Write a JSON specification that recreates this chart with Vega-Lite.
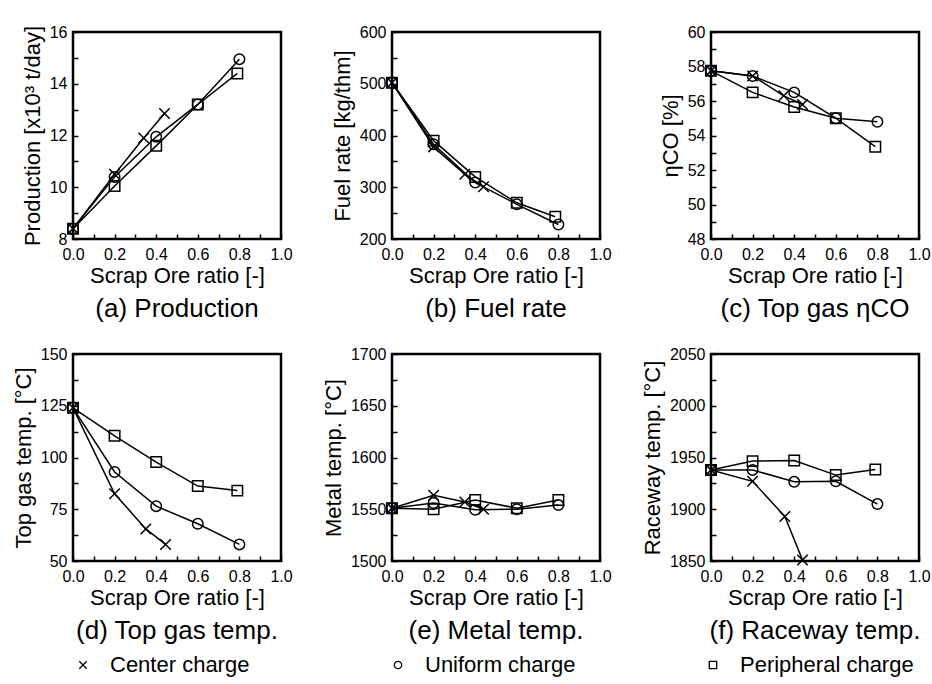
{
  "$schema": "https://vega.github.io/schema/vega-lite/v6.json",
  "background": "white",
  "padding": {"left": 11, "top": 22, "right": 2, "bottom": 5},
  "datasets": {
    "d": [
      {"p": "a", "c": "Center charge", "x": 0, "y": 8.4},
      {"p": "a", "c": "Center charge", "x": 0.2, "y": 10.5},
      {"p": "a", "c": "Center charge", "x": 0.34, "y": 11.9},
      {"p": "a", "c": "Center charge", "x": 0.44, "y": 12.85},
      {"p": "a", "c": "Uniform charge", "x": 0, "y": 8.4},
      {"p": "a", "c": "Uniform charge", "x": 0.2, "y": 10.4},
      {"p": "a", "c": "Uniform charge", "x": 0.4, "y": 11.95},
      {"p": "a", "c": "Uniform charge", "x": 0.6, "y": 13.2},
      {"p": "a", "c": "Uniform charge", "x": 0.8, "y": 14.95},
      {"p": "a", "c": "Peripheral charge", "x": 0, "y": 8.4},
      {"p": "a", "c": "Peripheral charge", "x": 0.2, "y": 10.05},
      {"p": "a", "c": "Peripheral charge", "x": 0.4, "y": 11.6},
      {"p": "a", "c": "Peripheral charge", "x": 0.6, "y": 13.2},
      {"p": "a", "c": "Peripheral charge", "x": 0.79, "y": 14.4},

      {"p": "b", "c": "Center charge", "x": 0, "y": 502},
      {"p": "b", "c": "Center charge", "x": 0.2, "y": 378},
      {"p": "b", "c": "Center charge", "x": 0.35, "y": 325},
      {"p": "b", "c": "Center charge", "x": 0.44, "y": 301},
      {"p": "b", "c": "Uniform charge", "x": 0, "y": 502},
      {"p": "b", "c": "Uniform charge", "x": 0.2, "y": 383},
      {"p": "b", "c": "Uniform charge", "x": 0.4, "y": 309},
      {"p": "b", "c": "Uniform charge", "x": 0.6, "y": 267},
      {"p": "b", "c": "Uniform charge", "x": 0.8, "y": 228},
      {"p": "b", "c": "Peripheral charge", "x": 0, "y": 502},
      {"p": "b", "c": "Peripheral charge", "x": 0.2, "y": 390},
      {"p": "b", "c": "Peripheral charge", "x": 0.4, "y": 320},
      {"p": "b", "c": "Peripheral charge", "x": 0.6, "y": 270},
      {"p": "b", "c": "Peripheral charge", "x": 0.785, "y": 243},

      {"p": "c", "c": "Center charge", "x": 0, "y": 57.75},
      {"p": "c", "c": "Center charge", "x": 0.2, "y": 57.45},
      {"p": "c", "c": "Center charge", "x": 0.35, "y": 56.3},
      {"p": "c", "c": "Center charge", "x": 0.44, "y": 55.8},
      {"p": "c", "c": "Uniform charge", "x": 0, "y": 57.75},
      {"p": "c", "c": "Uniform charge", "x": 0.2, "y": 57.45},
      {"p": "c", "c": "Uniform charge", "x": 0.4, "y": 56.5},
      {"p": "c", "c": "Uniform charge", "x": 0.6, "y": 55.0},
      {"p": "c", "c": "Uniform charge", "x": 0.8, "y": 54.8},
      {"p": "c", "c": "Peripheral charge", "x": 0, "y": 57.75},
      {"p": "c", "c": "Peripheral charge", "x": 0.2, "y": 56.5},
      {"p": "c", "c": "Peripheral charge", "x": 0.4, "y": 55.65},
      {"p": "c", "c": "Peripheral charge", "x": 0.6, "y": 55.0},
      {"p": "c", "c": "Peripheral charge", "x": 0.79, "y": 53.35},

      {"p": "d", "c": "Center charge", "x": 0, "y": 124},
      {"p": "d", "c": "Center charge", "x": 0.2, "y": 82.5},
      {"p": "d", "c": "Center charge", "x": 0.35, "y": 65.5},
      {"p": "d", "c": "Center charge", "x": 0.445, "y": 58},
      {"p": "d", "c": "Uniform charge", "x": 0, "y": 124},
      {"p": "d", "c": "Uniform charge", "x": 0.2, "y": 93},
      {"p": "d", "c": "Uniform charge", "x": 0.4, "y": 76.5},
      {"p": "d", "c": "Uniform charge", "x": 0.6, "y": 68},
      {"p": "d", "c": "Uniform charge", "x": 0.8, "y": 58},
      {"p": "d", "c": "Peripheral charge", "x": 0, "y": 124},
      {"p": "d", "c": "Peripheral charge", "x": 0.2, "y": 110.5},
      {"p": "d", "c": "Peripheral charge", "x": 0.4, "y": 97.8},
      {"p": "d", "c": "Peripheral charge", "x": 0.6, "y": 86.2},
      {"p": "d", "c": "Peripheral charge", "x": 0.79, "y": 84},

      {"p": "e", "c": "Center charge", "x": 0, "y": 1551},
      {"p": "e", "c": "Center charge", "x": 0.2, "y": 1563.5},
      {"p": "e", "c": "Center charge", "x": 0.35, "y": 1557},
      {"p": "e", "c": "Center charge", "x": 0.44, "y": 1550},
      {"p": "e", "c": "Uniform charge", "x": 0, "y": 1551},
      {"p": "e", "c": "Uniform charge", "x": 0.2, "y": 1556},
      {"p": "e", "c": "Uniform charge", "x": 0.4, "y": 1549.5},
      {"p": "e", "c": "Uniform charge", "x": 0.6, "y": 1550},
      {"p": "e", "c": "Uniform charge", "x": 0.8, "y": 1554},
      {"p": "e", "c": "Peripheral charge", "x": 0, "y": 1551},
      {"p": "e", "c": "Peripheral charge", "x": 0.2, "y": 1550},
      {"p": "e", "c": "Peripheral charge", "x": 0.4, "y": 1559},
      {"p": "e", "c": "Peripheral charge", "x": 0.6, "y": 1551},
      {"p": "e", "c": "Peripheral charge", "x": 0.8, "y": 1559},

      {"p": "f", "c": "Center charge", "x": 0, "y": 1938},
      {"p": "f", "c": "Center charge", "x": 0.2, "y": 1927},
      {"p": "f", "c": "Center charge", "x": 0.355, "y": 1893},
      {"p": "f", "c": "Center charge", "x": 0.44, "y": 1851},
      {"p": "f", "c": "Uniform charge", "x": 0, "y": 1938},
      {"p": "f", "c": "Uniform charge", "x": 0.2, "y": 1938},
      {"p": "f", "c": "Uniform charge", "x": 0.4, "y": 1926.5},
      {"p": "f", "c": "Uniform charge", "x": 0.6, "y": 1927},
      {"p": "f", "c": "Uniform charge", "x": 0.8, "y": 1905},
      {"p": "f", "c": "Peripheral charge", "x": 0, "y": 1938},
      {"p": "f", "c": "Peripheral charge", "x": 0.2, "y": 1946.5},
      {"p": "f", "c": "Peripheral charge", "x": 0.4, "y": 1947},
      {"p": "f", "c": "Peripheral charge", "x": 0.6, "y": 1933},
      {"p": "f", "c": "Peripheral charge", "x": 0.79, "y": 1938.5}
    ]
  },
  "data": {"name": "d"},
  "columns": 3,
  "bounds": "flush",
  "spacing": {"row": 115, "column": 111},
  "concat": [
    {
      "width": 208, "height": 207,
      "title": {"text": "(a) Production", "orient": "bottom"},
      "transform": [{"filter": "datum.p === 'a'"}],
      "encoding": {
        "x": {"field": "x", "type": "quantitative", "scale": {"domain": [0, 1], "nice": false},
          "axis": {"title": "Scrap Ore ratio [-]", "values": [0, 0.1, 0.2, 0.3, 0.4, 0.5, 0.6, 0.7, 0.8, 0.9, 1.0], "labelExpr": "round(datum.value*10) % 2 === 0 ? format(datum.value, '.1f') : ''"}},
        "y": {"field": "y", "type": "quantitative", "scale": {"domain": [8, 16], "nice": false, "zero": false},
          "axis": {"title": "Production [x10³ t/day]", "values": [8, 9, 10, 11, 12, 13, 14, 15, 16], "labelExpr": "datum.value % 2 === 0 ? format(datum.value, 'd') : ''"}}
      },
      "layer": [
        {"mark": {"type": "line", "color": "black", "strokeWidth": 1.5}, "encoding": {"detail": {"field": "c"}}},
        {"mark": {"type": "point", "filled": false, "stroke": "black", "strokeWidth": 1.5, "size": 110, "opacity": 1},
          "encoding": {"shape": {"field": "c", "type": "nominal",
            "scale": {"domain": ["Center charge", "Uniform charge", "Peripheral charge"], "range": ["M-1,-1L1,1M-1,1L1,-1", "circle", "square"]},
            "legend": {"title": null, "orient": "none", "legendX": -1, "legendY": 622, "direction": "horizontal", "gridAlign": "all", "columnPadding": 103, "labelLimit": 400, "labelFontSize": 22, "labelOffset": 16, "symbolSize": 55, "symbolStrokeWidth": 1.3, "symbolStrokeColor": "black", "padding": 0, "labelColor": "black", "labelFont": "Liberation Sans"}}}}
      ]
    },
    {
      "width": 208, "height": 207,
      "title": {"text": "(b) Fuel rate", "orient": "bottom"},
      "transform": [{"filter": "datum.p === 'b'"}],
      "encoding": {
        "x": {"field": "x", "type": "quantitative", "scale": {"domain": [0, 1], "nice": false},
          "axis": {"title": "Scrap Ore ratio [-]", "values": [0, 0.1, 0.2, 0.3, 0.4, 0.5, 0.6, 0.7, 0.8, 0.9, 1.0], "labelExpr": "round(datum.value*10) % 2 === 0 ? format(datum.value, '.1f') : ''"}},
        "y": {"field": "y", "type": "quantitative", "scale": {"domain": [200, 600], "nice": false, "zero": false},
          "axis": {"title": "Fuel rate  [kg/thm]", "values": [200, 250, 300, 350, 400, 450, 500, 550, 600], "labelExpr": "datum.value % 100 === 0 ? format(datum.value, 'd') : ''"}}
      },
      "layer": [
        {"mark": {"type": "line", "color": "black", "strokeWidth": 1.5}, "encoding": {"detail": {"field": "c"}}},
        {"mark": {"type": "point", "filled": false, "stroke": "black", "strokeWidth": 1.5, "size": 110, "opacity": 1},
          "encoding": {"shape": {"field": "c", "type": "nominal",
            "scale": {"domain": ["Center charge", "Uniform charge", "Peripheral charge"], "range": ["M-1,-1L1,1M-1,1L1,-1", "circle", "square"]},
            "legend": {"title": null, "orient": "none", "legendX": -1, "legendY": 622, "direction": "horizontal", "gridAlign": "all", "columnPadding": 103, "labelLimit": 400, "labelFontSize": 22, "labelOffset": 16, "symbolSize": 55, "symbolStrokeWidth": 1.3, "symbolStrokeColor": "black", "padding": 0, "labelColor": "black", "labelFont": "Liberation Sans"}}}}
      ]
    },
    {
      "width": 208, "height": 207,
      "title": {"text": "(c) Top gas ηCO", "orient": "bottom"},
      "transform": [{"filter": "datum.p === 'c'"}],
      "encoding": {
        "x": {"field": "x", "type": "quantitative", "scale": {"domain": [0, 1], "nice": false},
          "axis": {"title": "Scrap Ore ratio [-]", "values": [0, 0.1, 0.2, 0.3, 0.4, 0.5, 0.6, 0.7, 0.8, 0.9, 1.0], "labelExpr": "round(datum.value*10) % 2 === 0 ? format(datum.value, '.1f') : ''"}},
        "y": {"field": "y", "type": "quantitative", "scale": {"domain": [48, 60], "nice": false, "zero": false},
          "axis": {"title": "ηCO  [%]", "values": [48, 49, 50, 51, 52, 53, 54, 55, 56, 57, 58, 59, 60], "labelExpr": "datum.value % 2 === 0 ? format(datum.value, 'd') : ''"}}
      },
      "layer": [
        {"mark": {"type": "line", "color": "black", "strokeWidth": 1.5}, "encoding": {"detail": {"field": "c"}}},
        {"mark": {"type": "point", "filled": false, "stroke": "black", "strokeWidth": 1.5, "size": 110, "opacity": 1},
          "encoding": {"shape": {"field": "c", "type": "nominal",
            "scale": {"domain": ["Center charge", "Uniform charge", "Peripheral charge"], "range": ["M-1,-1L1,1M-1,1L1,-1", "circle", "square"]},
            "legend": {"title": null, "orient": "none", "legendX": -1, "legendY": 622, "direction": "horizontal", "gridAlign": "all", "columnPadding": 103, "labelLimit": 400, "labelFontSize": 22, "labelOffset": 16, "symbolSize": 55, "symbolStrokeWidth": 1.3, "symbolStrokeColor": "black", "padding": 0, "labelColor": "black", "labelFont": "Liberation Sans"}}}}
      ]
    },
    {
      "width": 208, "height": 207,
      "title": {"text": "(d) Top gas temp.", "orient": "bottom"},
      "transform": [{"filter": "datum.p === 'd'"}],
      "encoding": {
        "x": {"field": "x", "type": "quantitative", "scale": {"domain": [0, 1], "nice": false},
          "axis": {"title": "Scrap Ore ratio [-]", "values": [0, 0.1, 0.2, 0.3, 0.4, 0.5, 0.6, 0.7, 0.8, 0.9, 1.0], "labelExpr": "round(datum.value*10) % 2 === 0 ? format(datum.value, '.1f') : ''"}},
        "y": {"field": "y", "type": "quantitative", "scale": {"domain": [50, 150], "nice": false, "zero": false},
          "axis": {"title": "Top gas temp. [°C]", "values": [50, 62.5, 75, 87.5, 100, 112.5, 125, 137.5, 150], "labelExpr": "datum.value % 25 === 0 ? format(datum.value, 'd') : ''"}}
      },
      "layer": [
        {"mark": {"type": "line", "color": "black", "strokeWidth": 1.5}, "encoding": {"detail": {"field": "c"}}},
        {"mark": {"type": "point", "filled": false, "stroke": "black", "strokeWidth": 1.5, "size": 110, "opacity": 1},
          "encoding": {"shape": {"field": "c", "type": "nominal",
            "scale": {"domain": ["Center charge", "Uniform charge", "Peripheral charge"], "range": ["M-1,-1L1,1M-1,1L1,-1", "circle", "square"]},
            "legend": {"title": null, "orient": "none", "legendX": -1, "legendY": 622, "direction": "horizontal", "gridAlign": "all", "columnPadding": 103, "labelLimit": 400, "labelFontSize": 22, "labelOffset": 16, "symbolSize": 55, "symbolStrokeWidth": 1.3, "symbolStrokeColor": "black", "padding": 0, "labelColor": "black", "labelFont": "Liberation Sans"}}}}
      ]
    },
    {
      "width": 208, "height": 207,
      "title": {"text": "(e) Metal temp.", "orient": "bottom"},
      "transform": [{"filter": "datum.p === 'e'"}],
      "encoding": {
        "x": {"field": "x", "type": "quantitative", "scale": {"domain": [0, 1], "nice": false},
          "axis": {"title": "Scrap Ore ratio [-]", "values": [0, 0.1, 0.2, 0.3, 0.4, 0.5, 0.6, 0.7, 0.8, 0.9, 1.0], "labelExpr": "round(datum.value*10) % 2 === 0 ? format(datum.value, '.1f') : ''"}},
        "y": {"field": "y", "type": "quantitative", "scale": {"domain": [1500, 1700], "nice": false, "zero": false},
          "axis": {"title": "Metal temp. [°C]", "values": [1500, 1525, 1550, 1575, 1600, 1625, 1650, 1675, 1700], "labelExpr": "datum.value % 50 === 0 ? format(datum.value, 'd') : ''"}}
      },
      "layer": [
        {"mark": {"type": "line", "color": "black", "strokeWidth": 1.5}, "encoding": {"detail": {"field": "c"}}},
        {"mark": {"type": "point", "filled": false, "stroke": "black", "strokeWidth": 1.5, "size": 110, "opacity": 1},
          "encoding": {"shape": {"field": "c", "type": "nominal",
            "scale": {"domain": ["Center charge", "Uniform charge", "Peripheral charge"], "range": ["M-1,-1L1,1M-1,1L1,-1", "circle", "square"]},
            "legend": {"title": null, "orient": "none", "legendX": -1, "legendY": 622, "direction": "horizontal", "gridAlign": "all", "columnPadding": 103, "labelLimit": 400, "labelFontSize": 22, "labelOffset": 16, "symbolSize": 55, "symbolStrokeWidth": 1.3, "symbolStrokeColor": "black", "padding": 0, "labelColor": "black", "labelFont": "Liberation Sans"}}}}
      ]
    },
    {
      "width": 208, "height": 207,
      "title": {"text": "(f) Raceway temp.", "orient": "bottom"},
      "transform": [{"filter": "datum.p === 'f'"}],
      "encoding": {
        "x": {"field": "x", "type": "quantitative", "scale": {"domain": [0, 1], "nice": false},
          "axis": {"title": "Scrap Ore ratio [-]", "values": [0, 0.1, 0.2, 0.3, 0.4, 0.5, 0.6, 0.7, 0.8, 0.9, 1.0], "labelExpr": "round(datum.value*10) % 2 === 0 ? format(datum.value, '.1f') : ''"}},
        "y": {"field": "y", "type": "quantitative", "scale": {"domain": [1850, 2050], "nice": false, "zero": false},
          "axis": {"title": "Raceway temp. [°C]", "values": [1850, 1875, 1900, 1925, 1950, 1975, 2000, 2025, 2050], "labelExpr": "datum.value % 50 === 0 ? format(datum.value, 'd') : ''"}}
      },
      "layer": [
        {"mark": {"type": "line", "color": "black", "strokeWidth": 1.5}, "encoding": {"detail": {"field": "c"}}},
        {"mark": {"type": "point", "filled": false, "stroke": "black", "strokeWidth": 1.5, "size": 110, "opacity": 1},
          "encoding": {"shape": {"field": "c", "type": "nominal",
            "scale": {"domain": ["Center charge", "Uniform charge", "Peripheral charge"], "range": ["M-1,-1L1,1M-1,1L1,-1", "circle", "square"]},
            "legend": {"title": null, "orient": "none", "legendX": -1, "legendY": 622, "direction": "horizontal", "gridAlign": "all", "columnPadding": 103, "labelLimit": 400, "labelFontSize": 22, "labelOffset": 16, "symbolSize": 55, "symbolStrokeWidth": 1.3, "symbolStrokeColor": "black", "padding": 0, "labelColor": "black", "labelFont": "Liberation Sans"}}}}
      ]
    }
  ],
  "config": {
    "font": "Liberation Sans",
    "view": {"stroke": "black", "strokeWidth": 2.5},
    "axis": {"grid": false, "domain": false, "ticks": true, "tickSize": -5, "tickColor": "black", "tickWidth": 1.5,
      "labelColor": "black", "titleColor": "black", "labelFontSize": 16, "titleFontSize": 22, "titleFontWeight": "normal",
      "labelFlush": false, "labelOverlap": false, "labelFont": "Liberation Sans", "titleFont": "Liberation Sans"},
    "axisX": {"labelPadding": 12, "titlePadding": 3},
    "axisY": {"labelPadding": 11, "titlePadding": 5},
    "title": {"fontSize": 26, "fontWeight": "normal", "color": "black", "offset": 10, "font": "Liberation Sans"}
  }
}
